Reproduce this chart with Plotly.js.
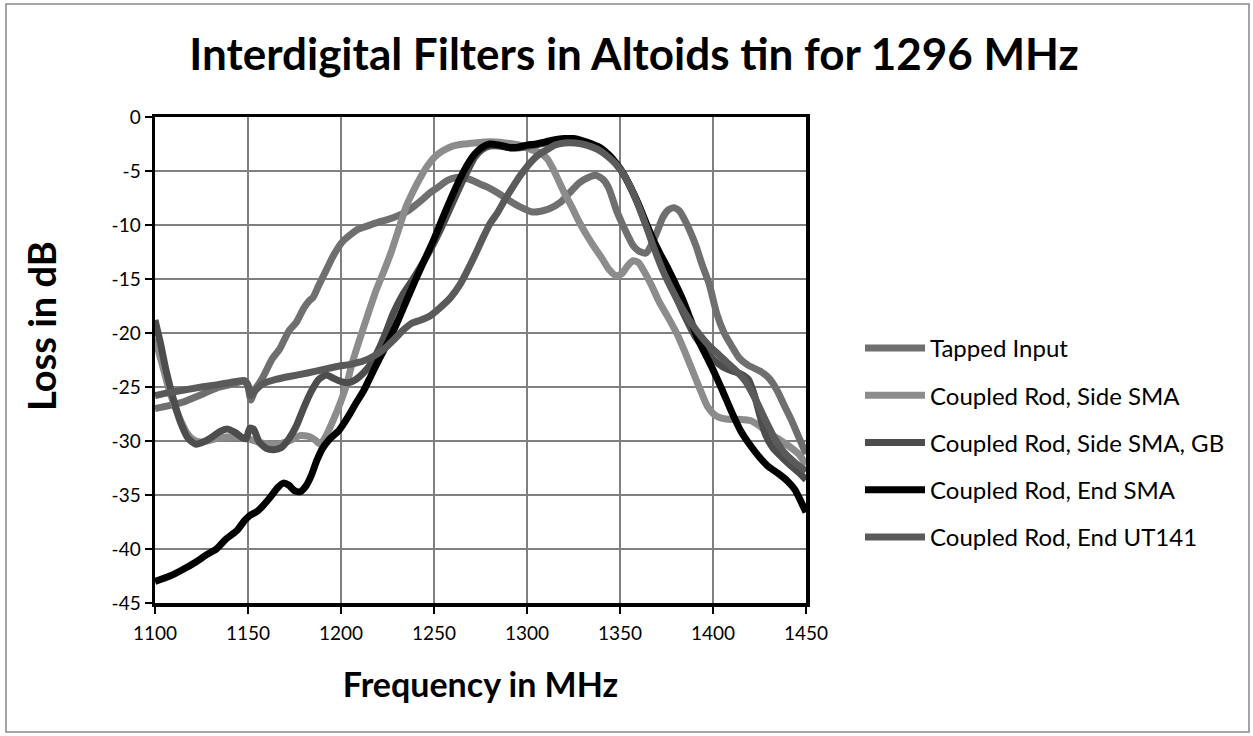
<!DOCTYPE html>
<html>
<head>
<meta charset="utf-8">
<script src="https://cdn.plot.ly/plotly-3.0.1.min.js"></script>
<style>
html,body{margin:0;padding:0;background:#fff;}
#chart{width:1253px;height:736px;}
</style>
</head>
<body>
<div id="chart"></div>
<script>
// ---- data ----
const seriesNames = ["Tapped Input","Coupled Rod, Side SMA","Coupled Rod, Side SMA, GB","Coupled Rod, End SMA","Coupled Rod, End UT141"];

const tappedF = [1100,1108,1115,1125,1133,1140,1148,1150,1151.5,1154,1158,1163,1167,1172,1176,1180,1183,1185,1188,1192,1196,1201,1205,1209,1214,1219,1225,1230,1235,1239,1244,1248,1253,1257,1262,1266,1271,1276,1280,1285,1291,1296,1303,1308,1312,1318,1323,1328,1333,1337,1341,1344,1348,1351,1354,1357,1360,1364,1367,1370,1373,1376,1379,1382,1385,1388,1391,1394,1398,1402,1406,1410,1414,1419,1425,1429,1432,1435,1438,1442,1445,1450];
const tappedDB = [-27,-26.7,-26.4,-25.7,-25.1,-24.8,-24.5,-25,-26.2,-25.2,-24.1,-22.4,-21.5,-19.8,-19,-17.7,-17,-16.7,-15.6,-14.2,-12.8,-11.5,-10.9,-10.4,-10.1,-9.8,-9.5,-9.2,-8.8,-8.3,-7.6,-7.0,-6.4,-5.9,-5.6,-5.6,-5.9,-6.3,-6.6,-7.1,-7.8,-8.3,-8.8,-8.7,-8.5,-7.9,-7.0,-6.1,-5.6,-5.4,-5.8,-6.6,-8.6,-9.8,-10.9,-11.9,-12.4,-12.6,-11.8,-10.6,-9.3,-8.6,-8.4,-8.7,-9.6,-10.7,-12,-13.6,-15.5,-18.2,-20,-21.2,-22.3,-23,-23.5,-24.0,-24.6,-25.5,-26.6,-28,-29.2,-31.2];

const sideF = [1100,1104,1108,1113,1117,1120,1124,1128,1135,1142,1150,1158,1165,1172,1178,1183,1186,1189,1192,1196,1200,1203,1206,1210,1215,1219,1223,1227,1231,1235,1239,1243,1247,1251,1255,1260,1266,1272,1280,1288,1296,1302,1307,1311,1314,1317,1320,1324,1328,1332,1336,1340,1344,1348,1351,1354,1357,1360,1363,1367,1371,1376,1381,1385,1389,1393,1397,1401,1405,1410,1415,1420,1425,1430,1436,1441,1446,1450];
const sideDB = [-20.5,-23,-25.5,-27.8,-29.2,-29.8,-30.1,-30.0,-29.7,-29.6,-29.8,-30.2,-30.3,-30,-29.5,-29.6,-29.9,-30.3,-29.5,-28,-26.3,-24.8,-22.8,-20.6,-18,-16,-14.3,-12.5,-10.4,-8.3,-6.8,-5.5,-4.4,-3.6,-3.1,-2.7,-2.5,-2.4,-2.3,-2.4,-2.6,-3.0,-3.3,-3.9,-4.8,-5.9,-7.0,-8.3,-9.7,-10.9,-12.0,-13.0,-14.1,-14.7,-14.5,-13.8,-13.3,-13.5,-14.3,-15.6,-17.1,-18.6,-20.2,-21.8,-23.5,-25.2,-26.8,-27.6,-27.9,-28,-28,-28.1,-28.6,-29.3,-29.9,-30.5,-31.2,-32.2];

const gbF = [1100,1103,1106,1110,1114,1118,1122,1126,1131,1135,1139,1143,1147,1149,1151,1153,1156,1160,1164,1168,1172,1176,1180,1184,1188,1192,1196,1200,1204,1208,1212,1216,1220,1224,1228,1233,1238,1243,1248,1253,1258,1263,1268,1272,1276,1280,1286,1292,1298,1304,1310,1316,1322,1328,1334,1340,1345,1350,1355,1360,1365,1370,1375,1380,1385,1390,1395,1400,1405,1410,1415,1419,1422,1425,1428,1432,1437,1442,1446,1450];
const gbDB = [-18.8,-21,-23.5,-26.2,-28.4,-29.8,-30.3,-30.1,-29.6,-29.1,-28.9,-29.2,-29.7,-29.8,-28.8,-28.9,-30.1,-30.7,-30.8,-30.6,-29.8,-28.6,-26.9,-25.4,-24.3,-23.9,-24.2,-24.5,-24.6,-24.3,-23.7,-22.9,-21.6,-20.0,-18.2,-16.5,-15.2,-13.8,-12.3,-10.6,-8.7,-6.8,-5.0,-3.7,-3.0,-2.7,-2.7,-2.9,-2.8,-2.6,-2.4,-2.3,-2.2,-2.3,-2.6,-3.1,-3.8,-4.8,-6.3,-8.2,-10.4,-12.7,-14.6,-16.6,-18.5,-20.2,-21.4,-22.4,-23.1,-23.5,-23.8,-24.3,-25.6,-27.5,-29.3,-30.6,-31.5,-32.3,-32.9,-33.6];

const endSmaF = [1100,1108,1115,1122,1128,1133,1138,1144,1148,1151,1155,1158,1162,1166,1169,1172,1175,1178,1181,1184,1187,1190,1194,1199,1204,1208,1212,1216,1220,1226,1230,1235,1240,1245,1250,1255,1260,1264,1268,1272,1276,1280,1285,1290,1295,1300,1305,1310,1315,1320,1325,1330,1335,1340,1344,1348,1352,1356,1360,1364,1368,1372,1376,1380,1384,1388,1392,1396,1400,1405,1410,1415,1420,1425,1430,1435,1440,1444,1447,1450];
const endSmaDB = [-43,-42.5,-41.9,-41.2,-40.5,-40,-39.1,-38.3,-37.4,-36.9,-36.5,-36,-35.2,-34.3,-33.9,-34.1,-34.6,-34.7,-34.2,-33.2,-31.8,-30.7,-29.8,-29,-27.7,-26.5,-25.4,-24,-22.6,-20.6,-19.1,-17.1,-15.1,-13.2,-11.3,-9.2,-7.2,-5.7,-4.4,-3.4,-2.8,-2.5,-2.6,-2.8,-2.8,-2.6,-2.5,-2.3,-2.1,-2.0,-2.0,-2.2,-2.5,-2.9,-3.5,-4.3,-5.3,-6.6,-8.1,-9.8,-11.4,-12.8,-14.1,-15.5,-17.0,-18.8,-20.6,-22.0,-23.4,-25.3,-27.3,-29.1,-30.4,-31.5,-32.4,-33.0,-33.7,-34.5,-35.5,-36.6];

const ut141F = [1100,1108,1115,1125,1133,1140,1148,1150,1151.5,1154,1158,1165,1173,1182,1190,1198,1205,1212,1218,1223,1228,1233,1238,1243,1248,1253,1259,1264,1268,1272,1276,1280,1284,1289,1293,1296,1300,1303,1307,1311,1315,1320,1326,1332,1338,1343,1348,1353,1358,1363,1368,1373,1378,1383,1388,1393,1398,1403,1408,1413,1418,1423,1428,1433,1438,1444,1450];
const ut141DB = [-25.8,-25.5,-25.3,-25,-24.8,-24.6,-24.4,-24.8,-25.8,-25.3,-24.7,-24.3,-24,-23.7,-23.4,-23.1,-22.9,-22.6,-22.1,-21.5,-20.7,-19.8,-19.1,-18.8,-18.4,-17.7,-16.7,-15.5,-14.2,-12.8,-11.3,-9.9,-8.9,-7.4,-6.3,-5.5,-4.6,-4.0,-3.4,-3.0,-2.6,-2.4,-2.4,-2.6,-3.0,-3.6,-4.4,-5.6,-7.4,-9.6,-12.0,-14.2,-16.0,-17.6,-19.0,-20.2,-21.2,-22.0,-22.8,-23.6,-24.6,-26.2,-28.0,-29.7,-31.0,-32.0,-32.8];

const xTicks = [1100,1150,1200,1250,1300,1350,1400,1450];
const yTicks = [0,-5,-10,-15,-20,-25,-30,-35,-40,-45];

// ---- styling ----
const colors = ["#6f6f6f","#8c8c8c","#4d4d4d","#000000","#5a5a5a"];
const xs = [tappedF, sideF, gbF, endSmaF, ut141F];
const ys = [tappedDB, sideDB, gbDB, endSmaDB, ut141DB];
const FONT = "Lato, 'Open Sans', sans-serif";

const traces = seriesNames.map((n,i)=>({
  type:"scatter", mode:"lines", name:n, x:xs[i], y:ys[i],
  legendgroup:"g"+i,
  line:{color:colors[i], width:7, shape:"spline", smoothing:0.6},
  hoverinfo:"skip"
}));

const L=155, R=806, T=117, B=603;
const pw = R-L, ph = B-T;
const px = v => (v-L)/pw;
const py = v => (B-v)/ph;

const layout = {
  width:1253, height:736,
  margin:{l:L, r:1253-R, t:T, b:736-B, pad:0},
  paper_bgcolor:"#ffffff", plot_bgcolor:"#ffffff",
  font:{family:FONT, color:"#000"},
  title:{text:"<b>Interdigital Filters in Altoids tin for 1296 MHz</b>", font:{family:FONT, size:44, color:"#000"},
         x:634/1253, xanchor:"center", xref:"container", y:1-55/736, yanchor:"middle", yref:"container"},
  xaxis:{range:[1100,1450], tickvals:xTicks, ticktext:xTicks.map(String),
         showgrid:true, gridcolor:"#808080", gridwidth:2,
         showline:true, linecolor:"#000", linewidth:3.5, mirror:true,
         ticks:"outside", ticklen:7, tickwidth:2, tickcolor:"#000", ticklabelstandoff:4,
         tickfont:{family:FONT, size:19, color:"#000"}, zeroline:false,
         title:{text:"<b>Frequency in MHz</b>", font:{family:FONT, size:34, color:"#000"}, standoff:31}},
  yaxis:{range:[-45,0], tickvals:yTicks, ticktext:yTicks.map(String),
         showgrid:true, gridcolor:"#808080", gridwidth:2,
         showline:true, linecolor:"#000", linewidth:3.5, mirror:true,
         ticks:"outside", ticklen:7, tickwidth:2, tickcolor:"#000",
         tickfont:{family:FONT, size:19, color:"#000"}, zeroline:false},
  annotations:[{text:"<b>Loss in dB</b>", textangle:-90, xref:"paper", yref:"paper",
                x:px(41), y:py(326), xanchor:"center", yanchor:"middle", showarrow:false,
                font:{family:FONT, size:38, color:"#000"}}],
  legend:{x:px(860), y:py(326), xanchor:"left", yanchor:"top",
          font:{family:FONT, size:24, color:"#000"},
          itemwidth:60, tracegroupgap:13, bgcolor:"rgba(0,0,0,0)"},
  showlegend:true,
  shapes:[{type:"rect", xref:"paper", yref:"paper",
           x0:px(6), x1:px(1249), y0:py(4), y1:py(732),
           line:{color:"#888", width:1.5}, fillcolor:"rgba(0,0,0,0)", layer:"below"}]
};

Plotly.newPlot("chart", traces, layout, {displayModeBar:false, staticPlot:true});
</script>
</body>
</html>
